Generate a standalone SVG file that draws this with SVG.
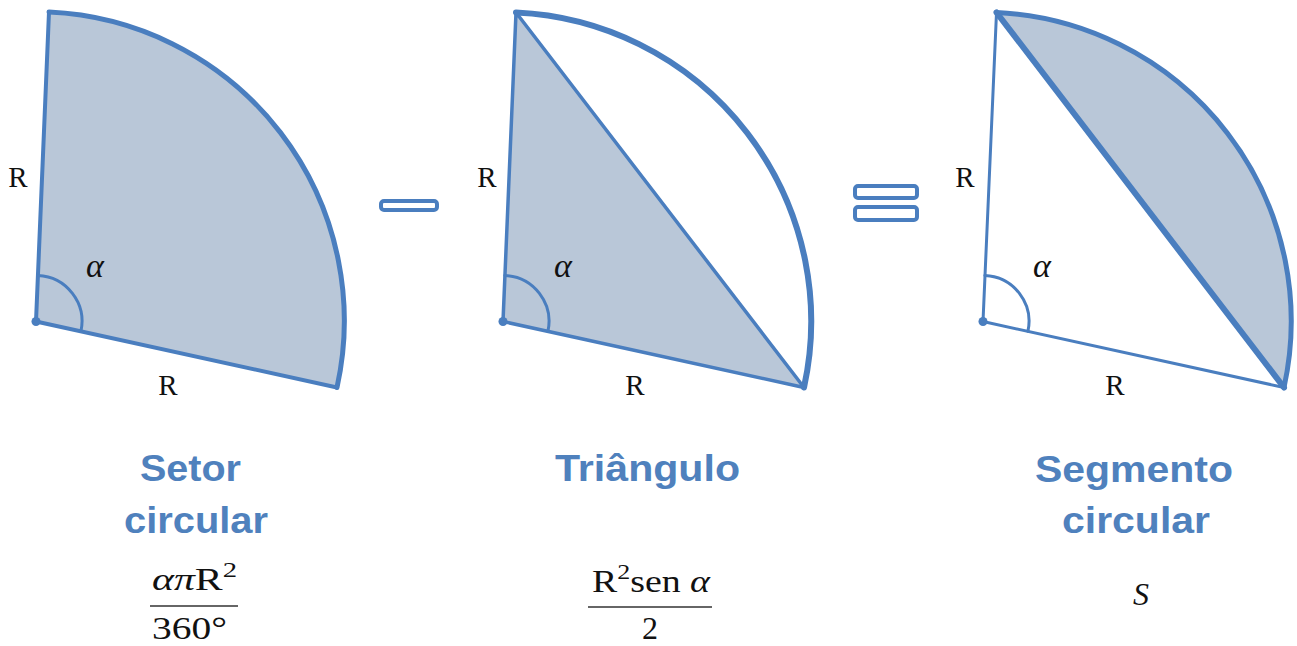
<svg xmlns="http://www.w3.org/2000/svg" width="1297" height="646" viewBox="0 0 1297 646">
<style>
.fill{fill:#b9c7d8;stroke:none}
.edge{fill:none;stroke:#4a7ebf;stroke-linejoin:round;stroke-linecap:round}
.sym{fill:#ffffff;stroke:#4a7ebf;stroke-width:4}
.dot{fill:#4a7ebf}
.lbl{font-family:"Liberation Serif",serif;font-size:29px;fill:#111;text-anchor:middle}
.alpha{font-family:"Liberation Serif",serif;font-style:italic;font-size:34px;fill:#111;text-anchor:middle}
.title{font-family:"Liberation Sans",Arial,sans-serif;font-weight:bold;font-size:37px;fill:#4f81bd}
.math{font-family:"Liberation Serif",serif;font-size:32px;fill:#111}
.frac{stroke:#333;stroke-width:1.5}
</style>
<rect width="1297" height="646" fill="#ffffff"/>

<g id="setor">
  <path class="fill" d="M36 321.5 L49 12 A309 309 0 0 1 337 387.5 Z"/>
  <path class="edge" stroke-width="4" d="M337 387.5 L36 321.5 L49 12"/>
  <path class="edge" stroke-width="5" d="M49 12 A309 309 0 0 1 337 387.5"/>
  <path class="edge" stroke-width="3" d="M37.9 275.5 A46 46 0 0 1 80.9 331.35"/>
  <circle class="dot" cx="36" cy="321.5" r="4.5"/>
  <text class="lbl" x="18" y="187">R</text>
  <text class="lbl" x="168" y="395">R</text>
  <text class="alpha" x="95" y="277">α</text>
  <text class="title" x="140" y="481" textLength="101" lengthAdjust="spacingAndGlyphs">Setor</text>
  <text class="title" x="124" y="533" textLength="144" lengthAdjust="spacingAndGlyphs">circular</text>
  <text class="math" x="152" y="590" textLength="85" lengthAdjust="spacingAndGlyphs"><tspan font-style="italic">απ</tspan>R<tspan font-size="22" dy="-13">2</tspan></text>
  <line class="frac" x1="150" y1="606" x2="238" y2="606"/>
  <text class="math" x="152" y="639" font-size="30" textLength="75" lengthAdjust="spacingAndGlyphs">360°</text>
</g>

<g id="minus">
  <rect class="sym" x="381" y="201" width="56" height="9" rx="3"/>
</g>

<g id="triangulo">
  <path class="fill" d="M503 321.5 L516 12.5 L804 387.5 Z"/>
  <path class="edge" stroke-width="3.5" d="M804 387.5 L503 321.5 L516 12.5 L804 387.5"/>
  <path class="edge" stroke-width="6" d="M516 12.5 A309 309 0 0 1 804 387.5"/>
  <path class="edge" stroke-width="3" d="M504.9 275.5 A46 46 0 0 1 547.9 331.35"/>
  <circle class="dot" cx="503" cy="321.5" r="4.5"/>
  <text class="lbl" x="487" y="187">R</text>
  <text class="lbl" x="635" y="395">R</text>
  <text class="alpha" x="563" y="277">α</text>
  <text class="title" x="555" y="481" textLength="185" lengthAdjust="spacingAndGlyphs">Triângulo</text>
  <text class="math" x="592" y="592" textLength="118" lengthAdjust="spacingAndGlyphs">R<tspan font-size="22" dy="-13">2</tspan><tspan dy="13">sen </tspan><tspan font-style="italic">α</tspan></text>
  <line class="frac" x1="588" y1="607" x2="712" y2="607"/>
  <text class="math" x="650" y="639" font-size="30" text-anchor="middle">2</text>
</g>

<g id="equals">
  <rect class="sym" x="855" y="186" width="62" height="12" rx="3"/>
  <rect class="sym" x="855" y="207" width="62" height="13" rx="3"/>
</g>

<g id="segmento">
  <path class="fill" d="M996.5 12.5 A309 309 0 0 1 1284 387.5 Z"/>
  <path class="edge" stroke-width="3" d="M1284 387.5 L983 321.5 L996.5 12.5"/>
  <path class="edge" stroke-width="6" d="M996.5 12.5 L1284 387.5"/>
  <path class="edge" stroke-width="5" d="M996.5 12.5 A309 309 0 0 1 1284 387.5"/>
  <path class="edge" stroke-width="3" d="M984.9 275.5 A46 46 0 0 1 1027.9 331.35"/>
  <circle class="dot" cx="983" cy="321.5" r="4.5"/>
  <text class="lbl" x="965" y="187">R</text>
  <text class="lbl" x="1115" y="395">R</text>
  <text class="alpha" x="1042" y="277">α</text>
  <text class="title" x="1035" y="482" textLength="198" lengthAdjust="spacingAndGlyphs">Segmento</text>
  <text class="title" x="1062" y="533" textLength="148" lengthAdjust="spacingAndGlyphs">circular</text>
  <text class="math" x="1141" y="605" text-anchor="middle" font-style="italic" font-size="34">S</text>
</g>
</svg>
